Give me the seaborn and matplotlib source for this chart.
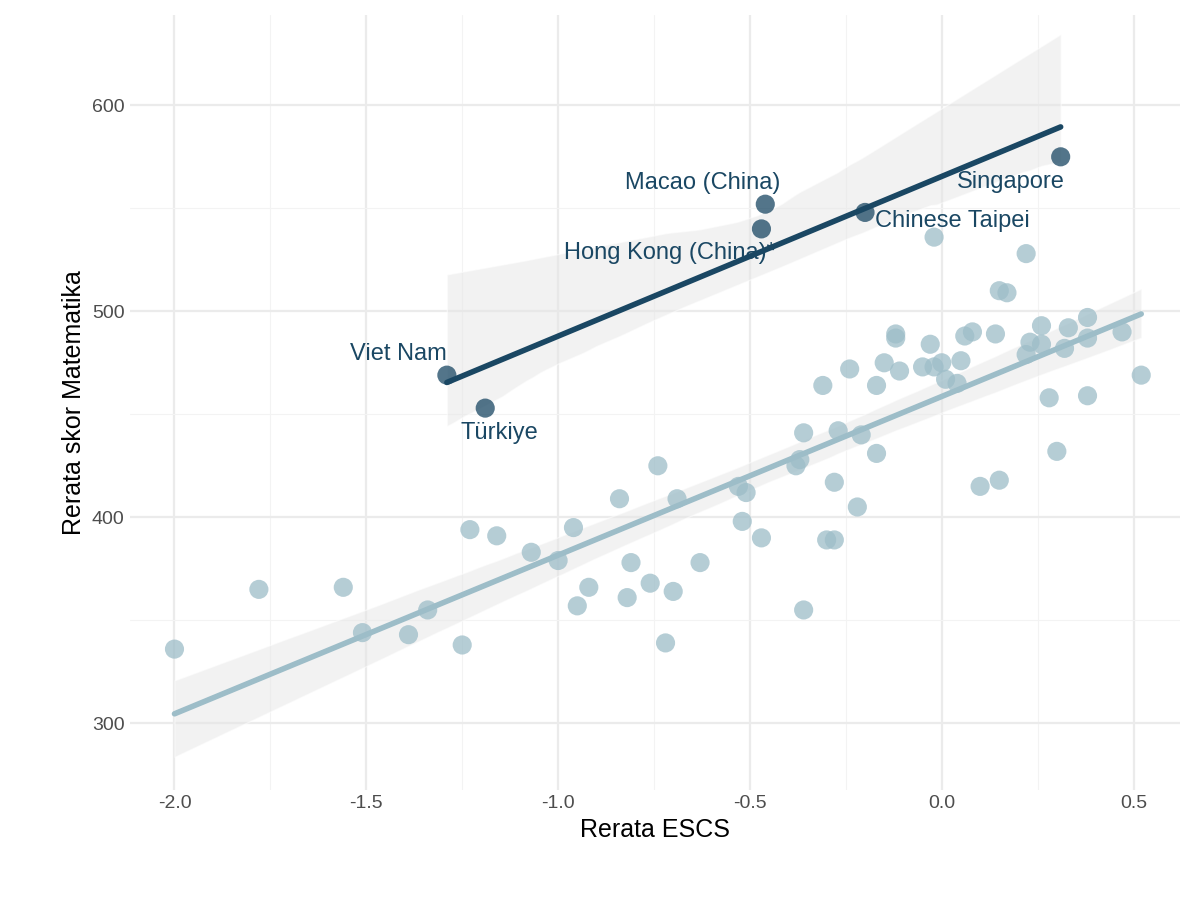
import numpy as np
import pandas as pd
import matplotlib.pyplot as plt
import seaborn as sns

# other countries
escs_other = [-2.00, -1.78, -1.56, -1.51, -1.39, -1.34, -1.25, -1.23, -1.16, -1.07,
              -1.00, -0.96, -0.95, -0.92, -0.84, -0.82, -0.81, -0.76, -0.74, -0.72,
              -0.70, -0.69, -0.63, -0.53, -0.52, -0.51, -0.47, -0.38, -0.37, -0.36,
              -0.36, -0.31, -0.30, -0.28, -0.28, -0.27, -0.24, -0.22, -0.21, -0.17,
              -0.17, -0.15, -0.12, -0.12, -0.11, -0.05, -0.03, -0.02, -0.02, 0.00,
              0.01, 0.04, 0.05, 0.06, 0.08, 0.10, 0.14, 0.15, 0.15, 0.17,
              0.22, 0.22, 0.23, 0.26, 0.26, 0.28, 0.30, 0.32, 0.33, 0.38,
              0.38, 0.38, 0.47, 0.52]
math_other = [336, 365, 366, 344, 343, 355, 338, 394, 391, 383,
              379, 395, 357, 366, 409, 361, 378, 368, 425, 339,
              364, 409, 378, 415, 398, 412, 390, 425, 428, 441,
              355, 464, 389, 389, 417, 442, 472, 405, 440, 431,
              464, 475, 489, 487, 471, 473, 484, 536, 473, 475,
              467, 465, 476, 488, 490, 415, 489, 510, 418, 509,
              528, 479, 485, 493, 484, 458, 432, 482, 492, 497,
              487, 459, 490, 469]

# top performers
top_names = ["Viet Nam", "Türkiye", "Hong Kong (China)*", "Macao (China)", "Chinese Taipei", "Singapore"]
escs_top = [-1.29, -1.19, -0.47, -0.46, -0.20, 0.31]
math_top = [469, 453, 540, 552, 548, 575]
label_offsets = [(-70, 15), (-18, -18), (-142, -17), (-101, 15), (7, -6), (-75, -18)]

df_other = pd.DataFrame({"escs": escs_other, "math": math_other})
df_top = pd.DataFrame({"escs": escs_top, "math": math_top, "name": top_names})

light = "#9dbdc8"
dark = "#1a4763"

sns.set_theme(style="whitegrid")
plt.rcParams['font.family'] = ['Liberation Sans', 'DejaVu Sans']
fig, ax = plt.subplots(figsize=(12, 9), dpi=100)

sns.regplot(data=df_other, x="escs", y="math", ax=ax, color=light,
            scatter_kws={"s": 190, "alpha": 0.75, "edgecolor": "none", "zorder": 4},
            line_kws={"lw": 4, "zorder": 5}, ci=95)
sns.regplot(data=df_top, x="escs", y="math", ax=ax, color=dark,
            scatter_kws={"s": 190, "alpha": 0.75, "edgecolor": "none", "zorder": 4},
            line_kws={"lw": 4, "zorder": 5}, ci=95)
for coll in ax.collections:
    if "Poly" in coll.__class__.__name__:
        coll.set_facecolor("#e6e6e6")
        coll.set_alpha(0.5)
        coll.set_zorder(2)

for name, x, y, off in zip(top_names, escs_top, math_top, label_offsets):
    ax.annotate(name, (x, y), xytext=off, textcoords="offset points",
                fontsize=17, color=dark, va="center", zorder=6)

ax.set_xlim(-2.117, 0.62)
ax.set_ylim(267.5, 643.7)
ax.set_xticks([-2.0, -1.5, -1.0, -0.5, 0.0, 0.5])
ax.set_xticklabels(["-2.0", "-1.5", "-1.0", "-0.5", "0.0", "0.5"])
ax.set_yticks([300, 400, 500, 600])
ax.set_xticks(np.arange(-1.75, 0.6, 0.5), minor=True)
ax.set_yticks([350, 450, 550], minor=True)
ax.grid(which="major", color="#ebebeb", lw=1.6)
ax.grid(which="minor", color="#f3f3f3", lw=0.8)
ax.tick_params(labelsize=14, colors="#4d4d4d", length=0)
for s in ax.spines.values():
    s.set_visible(False)
ax.set_xlabel("Rerata ESCS", fontsize=18, color="black")
ax.set_ylabel("Rerata skor Matematika", fontsize=18, color="black")
plt.subplots_adjust(left=0.108, right=0.983, top=0.983, bottom=0.122)
plt.savefig("out.png", dpi=100)
